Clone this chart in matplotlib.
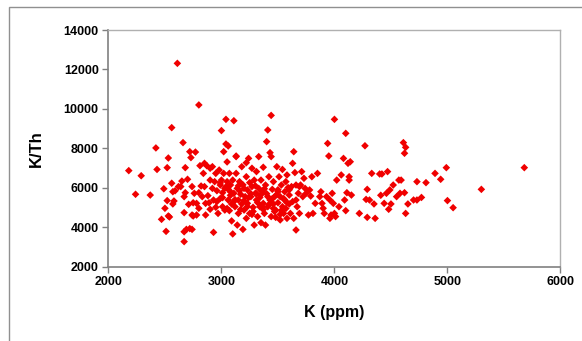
import matplotlib
matplotlib.use("Agg")
import matplotlib.pyplot as plt
from matplotlib.patches import Rectangle

# K (ppm) values
k_ppm = [
    2180, 2240, 2290, 2370, 2420, 2430, 2470, 2490, 2500, 2510, 2520, 2530, 2530, 2540,
    2520, 2560, 2560, 2570, 2570, 2580, 2590, 2610, 2620, 2640, 2660, 2650, 2670, 2670,
    2670, 2670, 2680, 2690, 2680, 2700, 2710, 2720, 2720, 2730, 2740, 2740, 2740, 2750,
    2750, 2760, 2770, 2780, 2780, 2800, 2800, 2800, 2810, 2820, 2830, 2840, 2850, 2850,
    2860, 2860, 2870, 2880, 2890, 2900, 2900, 2900, 2920, 2920, 2930, 2930, 2940, 2950,
    2950, 2960, 2970, 2980, 2990, 2990, 3000, 3000, 3010, 3010, 3020, 3020, 3030, 3030,
    3040, 3040, 3050, 3050, 3060, 3060, 3060, 3070, 3070, 3080, 3080, 3090, 3090, 3100,
    3100, 3110, 3110, 3120, 3130, 3130, 3130, 3140, 3140, 3150, 3150, 3160, 3170, 3180,
    3180, 3190, 3200, 3200, 3210, 3220, 3220, 3220, 3230, 3230, 3240, 3250, 3250, 3260,
    3270, 3270, 3280, 3290, 3290, 3300, 3310, 3310, 3320, 3330, 3330, 3340, 3340, 3350,
    3350, 3360, 3370, 3370, 3380, 3390, 3390, 3400, 3410, 3410, 3410, 3420, 3430, 3430,
    3440, 3440, 3440, 3450, 3460, 3460, 3470, 3480, 3480, 3490, 3500, 3500, 3510, 3520,
    3520, 3530, 3540, 3540, 3550, 3560, 3560, 3570, 3580, 3580, 3590, 3600, 3600, 3610,
    3620, 3630, 3640, 3640, 3650, 3660, 3660, 3660, 3670, 3680, 3690, 3690, 3700, 3710,
    3720, 3730, 3740, 3750, 3770, 3780, 3790, 3800, 3810, 3830, 3850, 3870, 3880, 3890,
    3900, 3910, 3930, 3940, 3950, 3960, 3960, 3970, 3980, 3990, 4000, 4000, 4010, 4020,
    4040, 4060, 4080, 4090, 4100, 4100, 4110, 4120, 4130, 4130, 4140, 4150, 4220, 4270,
    4280, 4290, 4290, 4310, 4330, 4350, 4360, 4400, 4410, 4420, 4440, 4460, 4470, 4480,
    4490, 4500, 4520, 4550, 4570, 4580, 4590, 4610, 4620, 4630, 4620, 4630, 4650, 4700,
    4730, 4730, 4770, 4810, 4890, 4940, 4990, 5000, 5050, 5300, 5680,
    # extra points in the dense core
    2960, 3010, 3050, 3080, 3120, 3150, 3170, 3200, 3230, 3260, 3280, 3300, 3320, 3350,
    3370, 3400, 3420, 3450, 3470, 3500, 3520, 3550, 3570, 3600, 3630, 2990, 3040, 3110,
    3160, 3240, 3310, 3360, 3440, 3490, 3530, 3580, 3190, 3270, 3380, 3460,
]

# K/Th values, same order
k_th = [
    6870, 5670, 6610, 5630, 8020, 6930, 4400, 5950, 4960, 3790, 5350, 4570, 7510, 4520,
    7020, 9050, 6230, 5180, 5800, 5330, 5850, 12310, 6060, 6060, 8290, 6340, 5550, 3270,
    3770, 4740, 7020, 3890, 5750, 6430, 5160, 7830, 3930, 7530, 6060, 4620, 3890, 5240,
    4570, 5720, 7810, 5210, 4620, 10200, 5750, 4960, 7120, 6090, 5550, 6730, 7240, 6060,
    5210, 4620, 7120, 5600, 5240, 6390, 6990, 4910, 5970, 7070, 3740, 5380, 6310, 6730,
    5010, 5850, 4700, 6900, 6140, 5460, 8900, 6390, 5040, 5750, 7830, 6730, 5970, 4870,
    8220, 9470, 7310, 6310, 5380, 8120, 5920, 6730, 4840, 5620, 6140, 4320, 5180, 3660,
    6390, 9400, 5720, 5040, 7610, 6730, 7580, 4110, 5970, 5380, 4700, 6310, 5670, 5180,
    7070, 3890, 5970, 4870, 5550, 6560, 4450, 7270, 5890, 5210, 7490, 6260, 4700, 5550,
    6990, 6060, 5010, 4110, 6390, 5720, 5380, 6820, 4540, 5970, 7580, 5040, 5510, 6390,
    4230, 5800, 7040, 5210, 4700, 6140, 4110, 8340, 5550, 8930, 5040, 6560, 7780, 5380,
    9670, 4540, 7580, 5920, 5180, 6310, 5550, 4500, 4870, 7070, 5800, 5240, 6560, 4370,
    5550, 6140, 5040, 6930, 4700, 5800, 5380, 6310, 6650, 4450, 6010, 5180, 5630, 4700,
    6060, 7240, 4450, 7830, 6770, 3860, 5380, 6140, 5040, 5720, 6060, 4700, 6140, 6820,
    5550, 6480, 5970, 5720, 4620, 5890, 5580, 6560, 4700, 5210, 6730, 5550, 5800, 5210,
    4960, 4700, 5550, 8250, 7610, 4450, 5380, 4620, 5720, 5210, 9470, 4700, 4540, 6390,
    5040, 6650, 7490, 5380, 4840, 8760, 5750, 7240, 6390, 6560, 7320, 5630, 4700, 8130,
    5410, 5920, 4500, 5380, 6730, 5180, 4450, 6700, 5620, 6700, 5210, 5720, 6820, 4910,
    5890, 5180, 6140, 5550, 6390, 5720, 6390, 8290, 7750, 8050, 5750, 4700, 5180, 5380,
    6310, 5380, 5510, 6260, 6730, 6430, 7020, 5350, 4990, 5920, 7020,
    5300, 5500, 4950, 5800, 5400, 6100, 4900, 5350, 5050, 5700, 4800, 6100, 5250, 5650,
    4900, 5700, 5150, 5450, 4800, 5900, 4650, 5450, 4950, 5900, 5300, 6250, 6050, 5300,
    5850, 5500, 5700, 5050, 5250, 5650, 4850, 5250, 6150, 4650, 5950, 4950,
]

x_ticks = [2000, 3000, 4000, 5000, 6000]
y_ticks = [2000, 4000, 6000, 8000, 10000, 12000, 14000]

plt.rcParams['font.family'] = ['Liberation Sans', 'DejaVu Sans']

fig = plt.figure(figsize=(5.82, 3.41), dpi=100)
ax = fig.add_axes([0.1863, 0.218, 0.7767, 0.694])

ax.scatter(k_ppm, k_th, marker='D', s=15, color='#f00000', edgecolors='none', zorder=3)

ax.set_xlim(2000, 6000)
ax.set_ylim(2000, 14000)
ax.set_xticks(x_ticks)
ax.set_yticks(y_ticks)
ax.tick_params(direction='out', length=4, width=1, color='#808080', labelsize=9, pad=3)
for lab in ax.get_xticklabels() + ax.get_yticklabels():
    lab.set_fontweight('bold')

for side in ['left', 'bottom']:
    ax.spines[side].set_color('#808080')
    ax.spines[side].set_linewidth(1.2)
for side in ['top', 'right']:
    ax.spines[side].set_color('#b0b0b0')
    ax.spines[side].set_linewidth(1)

ax.set_xlabel('K (ppm)', fontsize=11.5, fontweight='bold', labelpad=12)
ax.set_ylabel('K/Th', fontsize=12, fontweight='bold', labelpad=14)

# outer chart frame
fig.patches.append(Rectangle((9 / 582, -0.05), 1.2, 1 - 7 / 341 + 0.05,
                             transform=fig.transFigure, fill=False,
                             edgecolor='#909090', linewidth=1))

fig.savefig('out.png', dpi=100)
